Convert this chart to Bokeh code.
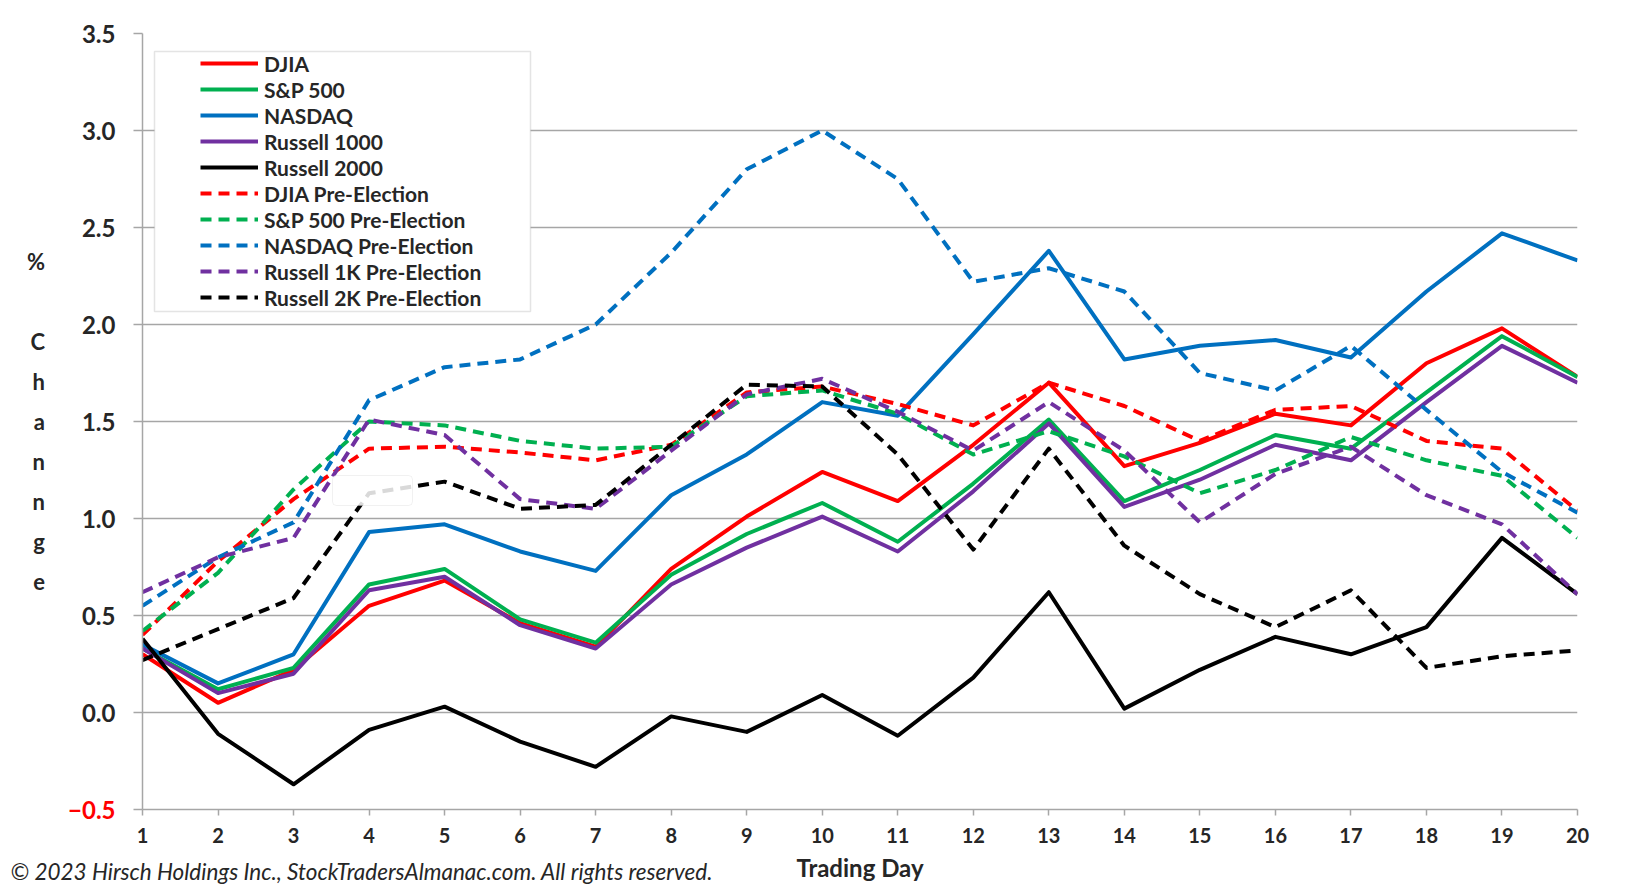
from bokeh.plotting import figure
from bokeh.models import (Legend, LegendItem, Label, BoxAnnotation, FixedTicker,
                          Range1d, NumeralTickFormatter)
from bokeh.embed import file_html
from bokeh.resources import INLINE

# ---------------- data ----------------
days = list(range(1, 21))
djia = [0.30, 0.05, 0.22, 0.55, 0.68, 0.46, 0.34, 0.74, 1.01, 1.24,
        1.09, 1.38, 1.70, 1.27, 1.39, 1.54, 1.48, 1.80, 1.98, 1.73]
sp500 = [0.33, 0.12, 0.23, 0.66, 0.74, 0.48, 0.36, 0.71, 0.92, 1.08,
         0.88, 1.18, 1.51, 1.09, 1.25, 1.43, 1.36, 1.65, 1.94, 1.73]
nasdaq = [0.35, 0.15, 0.30, 0.93, 0.97, 0.83, 0.73, 1.12, 1.33, 1.60,
          1.53, 1.95, 2.38, 1.82, 1.89, 1.92, 1.83, 2.17, 2.47, 2.33]
russell1000 = [0.33, 0.10, 0.20, 0.63, 0.70, 0.45, 0.33, 0.66, 0.85, 1.01,
               0.83, 1.14, 1.49, 1.06, 1.20, 1.38, 1.30, 1.60, 1.89, 1.70]
russell2000 = [0.38, -0.11, -0.37, -0.09, 0.03, -0.15, -0.28, -0.02, -0.10, 0.09,
               -0.12, 0.18, 0.62, 0.02, 0.22, 0.39, 0.30, 0.44, 0.90, 0.61]
djia_pre = [0.40, 0.78, 1.10, 1.36, 1.37, 1.34, 1.30, 1.38, 1.65, 1.68,
            1.59, 1.48, 1.70, 1.58, 1.40, 1.56, 1.58, 1.40, 1.36, 1.04]
sp500_pre = [0.42, 0.72, 1.15, 1.50, 1.48, 1.40, 1.36, 1.37, 1.63, 1.66,
             1.54, 1.33, 1.45, 1.32, 1.13, 1.25, 1.42, 1.30, 1.22, 0.90]
nasdaq_pre = [0.55, 0.80, 0.98, 1.61, 1.78, 1.82, 2.00, 2.37, 2.80, 3.00,
              2.75, 2.22, 2.29, 2.17, 1.75, 1.66, 1.89, 1.56, 1.24, 1.03]
r1k_pre = [0.62, 0.80, 0.90, 1.51, 1.43, 1.10, 1.05, 1.35, 1.64, 1.72,
           1.55, 1.35, 1.60, 1.35, 0.98, 1.23, 1.37, 1.12, 0.97, 0.61]
r2k_pre = [0.27, 0.43, 0.59, 1.13, 1.19, 1.05, 1.07, 1.38, 1.69, 1.68,
           1.33, 0.84, 1.36, 0.86, 0.61, 0.44, 0.63, 0.23, 0.29, 0.32]

y_ticks = [-0.5, 0.0, 0.5, 1.0, 1.5, 2.0, 2.5, 3.0, 3.5]

series = [
    ("DJIA", djia, "#FF0000", "solid"),
    ("S&P 500", sp500, "#00B050", "solid"),
    ("NASDAQ", nasdaq, "#0070C0", "solid"),
    ("Russell 1000", russell1000, "#7030A0", "solid"),
    ("Russell 2000", russell2000, "#000000", "solid"),
    ("DJIA Pre-Election", djia_pre, "#FF0000", "11 7"),
    ("S&P 500 Pre-Election", sp500_pre, "#00B050", "11 7"),
    ("NASDAQ Pre-Election", nasdaq_pre, "#0070C0", "11 7"),
    ("Russell 1K Pre-Election", r1k_pre, "#7030A0", "11 7"),
    ("Russell 2K Pre-Election", r2k_pre, "#000000", "11 7"),
]

# ---------------- layout ----------------
W, H = 1626, 887
L, R, T, B = 142, 49, 33, 78
FW, FH = W - L - R, H - T - B
X0, X1, Y0, Y1 = 1, 20, -0.5, 3.5
FONT = "Lato"
TXT = "#262626"
GRID = "#A6A6A6"


def px2x(px):
    return X0 + (px - L) * (X1 - X0) / FW


def py2y(py):
    return Y1 - (py - T) * (Y1 - Y0) / FH


p = figure(width=W, height=H, x_range=Range1d(X0, X1), y_range=Range1d(Y0, Y1),
           output_backend="svg", toolbar_location=None,
           min_border_left=L, min_border_right=R, min_border_top=T, min_border_bottom=B)
p.outline_line_color = None
p.background_fill_color = "white"
p.border_fill_color = "white"

# grid
p.xgrid.grid_line_color = None
p.ygrid.grid_line_color = GRID
p.ygrid.grid_line_width = 1.5
p.ygrid.ticker = FixedTicker(ticks=y_ticks)

# y axis
p.yaxis.ticker = FixedTicker(ticks=y_ticks)
p.yaxis.formatter = NumeralTickFormatter(format="0.0")
p.yaxis.major_label_overrides = {-0.5: ""}
p.yaxis.axis_line_color = GRID
p.yaxis.axis_line_width = 1.5
p.yaxis.major_tick_line_color = GRID
p.yaxis.major_tick_line_width = 1.5
p.yaxis.major_tick_out = 9
p.yaxis.major_tick_in = 0
p.yaxis.minor_tick_line_color = None
p.yaxis.major_label_standoff = 18
p.yaxis.major_label_text_font = FONT
p.yaxis.major_label_text_font_style = "bold"
p.yaxis.major_label_text_font_size = "24px"
p.yaxis.major_label_text_color = TXT
p.yaxis.axis_label = "%\n\nC\nh\na\nn\nn\ng\ne"
p.yaxis.axis_label_orientation = "horizontal"
p.yaxis.axis_label_standoff = 34
p.yaxis.axis_label_text_font = FONT
p.yaxis.axis_label_text_font_style = "bold"
p.yaxis.axis_label_text_font_size = "22px"
p.yaxis.axis_label_text_line_height = 1.48
p.yaxis.axis_label_text_color = TXT

# x axis
p.xaxis.ticker = FixedTicker(ticks=days)
p.xaxis.axis_line_color = GRID
p.xaxis.axis_line_width = 1.5
p.xaxis.major_tick_line_color = GRID
p.xaxis.major_tick_line_width = 1.5
p.xaxis.major_tick_out = 6
p.xaxis.major_tick_in = 0
p.xaxis.minor_tick_line_color = None
p.xaxis.major_label_standoff = 12
p.xaxis.major_label_text_font = FONT
p.xaxis.major_label_text_font_style = "bold"
p.xaxis.major_label_text_font_size = "20px"
p.xaxis.major_label_text_color = TXT
p.xaxis.axis_label = "Trading Day"
p.xaxis.axis_label_standoff = 7
p.xaxis.axis_label_text_font = FONT
p.xaxis.axis_label_text_font_style = "bold"
p.xaxis.axis_label_text_font_size = "24px"
p.xaxis.axis_label_text_color = TXT

# lines
items = []
for name, ys, color, dash in series:
    r = p.line(days, ys, line_color=color, line_width=4, line_dash=dash,
               line_join="round", line_cap="butt")
    items.append(LegendItem(label=name, renderers=[r]))

# legend box
p.add_layout(BoxAnnotation(left=px2x(154), right=px2x(530), top=py2y(51), bottom=py2y(311),
                           fill_color="white", fill_alpha=1.0,
                           line_color="#A6A6A6", line_width=1.5))

leg_row, leg_sp = 26, 0
leg_h = 10 * leg_row + 9 * leg_sp
leg_top_px = 63 - leg_row / 2 - T
legend = Legend(items=items, location=(200 - L, FH - leg_top_px - leg_h),
                padding=0, spacing=leg_sp, margin=0,
                glyph_width=58, glyph_height=leg_row, label_height=leg_row,
                label_standoff=6,
                label_text_font=FONT, label_text_font_style="bold",
                label_text_font_size="21px", label_text_color=TXT,
                border_line_color=None, background_fill_alpha=0)
p.add_layout(legend)

# small floating tooltip-like box seen in the source image
p.add_layout(BoxAnnotation(left=px2x(332), right=px2x(412), top=py2y(475), bottom=py2y(505),
                           fill_color="white", fill_alpha=0.85, level="overlay",
                           line_color="#D0D0D0", line_width=1, border_radius=4))

# red -0.5 label (kept in the right side panel so it is not clipped by the frame)
p.add_layout(Label(x=px2x(115), y=-0.5,
                   text="\u22120.5", text_align="right",
                   text_baseline="middle", text_font=FONT, text_font_style="bold",
                   text_font_size="24px", text_color="#FF0000"), "right")

# copyright (kept in the top side panel so it is not clipped by the frame)
p.add_layout(Label(x=px2x(10), y=py2y(871),
                   text="\u00a9 2023 Hirsch Holdings Inc., StockTradersAlmanac.com. All rights reserved.",
                   text_align="left", text_baseline="middle", text_font=FONT,
                   text_font_style="italic", text_font_size="22.5px", text_color=TXT), "above")

open("out.html", "w").write(file_html(p, INLINE))
